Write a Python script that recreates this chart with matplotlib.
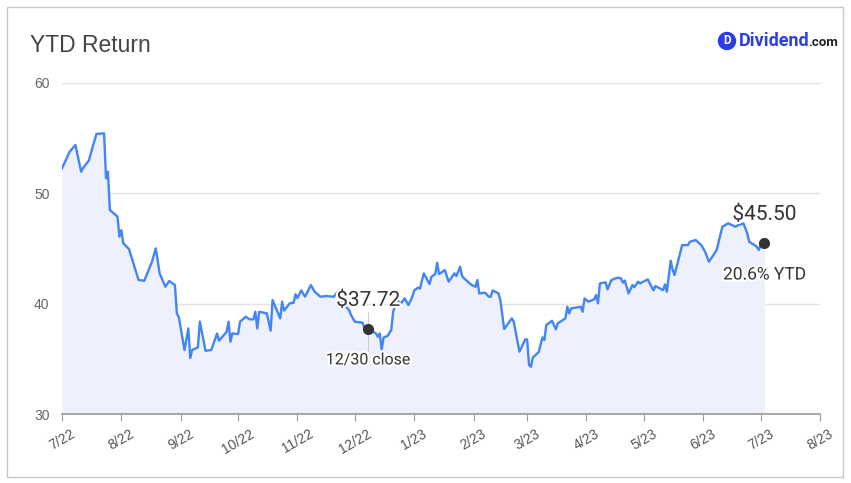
import matplotlib
matplotlib.use("Agg")
import matplotlib.pyplot as plt
import matplotlib.dates as mdates
import matplotlib.patheffects as pe
from matplotlib.patches import Rectangle, Circle
from matplotlib.transforms import IdentityTransform
import pandas as pd

plt.rcParams["font.family"] = ["Roboto", "DejaVu Sans"]
ARIAL = ["Liberation Sans", "DejaVu Sans"]

start = pd.Timestamp("2022-07-01")

# days after 7/1/22 and closing prices
day_offsets = [
    0, 4, 7, 10, 11, 14, 16, 18, 22, 23, 24, 25, 29, 30, 31, 32, 35, 40, 43, 47,
    49, 51, 54, 56, 59, 60, 61, 64, 66, 67, 68, 71, 72, 75, 78, 81, 82, 86, 87, 88,
    89, 92, 93, 96, 98, 100, 101, 102, 103, 107, 109, 110, 114, 115, 116, 119, 121, 122, 123, 125,
    127, 130, 132, 135, 138, 142, 144, 147, 150, 151, 153, 157, 158, 160, 164, 165, 166, 167, 168, 170,
    172, 173, 175, 177, 179, 181, 183, 184, 186, 187, 189, 192, 193, 195, 196, 197, 200, 202, 205, 206,
    208, 209, 210, 214, 216, 217, 218, 221, 223, 224, 225, 228, 229, 231, 235, 236, 239, 242, 243, 244,
    245, 246, 249, 251, 252, 253, 256, 258, 259, 263, 264, 265, 266, 271, 272, 273, 275, 278, 279, 280,
    281, 284, 285, 287, 290, 292, 293, 294, 296, 298, 299, 301, 302, 306, 309, 310, 314, 315, 316, 318,
    319, 320, 324, 327, 328, 331, 334, 336, 338, 342, 345, 348, 352, 353, 356, 358, 359, 363, 364, 365,
    367,
]
prices = [
    52.27, 53.77, 54.38, 51.96, 52.30, 52.96, 54.20, 55.38, 55.44, 51.36, 51.96, 48.49, 47.88, 46.07, 46.67, 45.47, 44.95, 42.14, 42.08, 43.80,
    45.01, 42.75, 41.53, 42.05, 41.69, 39.12, 38.80, 35.80, 37.76, 35.07, 35.80, 36.04, 38.37, 35.73, 35.80, 37.30, 36.64, 37.45, 38.37, 36.56,
    37.30, 37.25, 38.37, 38.82, 38.58, 38.58, 39.27, 37.76, 39.27, 39.12, 37.55, 40.33, 38.67, 40.18, 39.37, 40.03, 40.08, 40.85, 40.50, 41.20,
    40.63, 41.69, 41.08, 40.63, 40.69, 40.63, 41.08, 40.00, 39.42, 38.97, 38.37, 38.28, 37.80, 37.72, 37.30, 37.00, 37.30, 35.85, 36.94, 37.06,
    37.60, 39.27, 40.33, 40.00, 40.48, 39.87, 40.63, 41.20, 41.45, 41.36, 42.75, 41.78, 42.44, 42.68, 43.70, 42.68, 43.05, 41.99, 42.75, 42.50,
    43.35, 42.50, 42.30, 41.69, 41.53, 42.14, 40.93, 40.99, 40.63, 40.63, 41.20, 40.93, 40.33, 37.70, 38.67, 38.37, 35.65, 36.76, 36.76, 34.43,
    34.28, 35.13, 35.60, 36.94, 36.70, 38.06, 38.45, 37.67, 38.21, 38.67, 39.72, 39.12, 39.57, 39.72, 39.27, 40.48, 40.18, 40.39, 40.78, 40.03,
    41.84, 41.93, 41.30, 42.14, 42.35, 42.30, 41.90, 42.10, 40.93, 41.69, 41.50, 41.99, 41.84, 42.20, 41.20, 41.60, 41.23, 41.75, 41.08, 43.90,
    43.11, 42.60, 45.31, 45.31, 45.61, 45.77, 45.31, 44.70, 43.80, 44.86, 46.97, 47.28, 46.97, 47.10, 47.28, 46.37, 45.61, 45.16, 44.86, 45.31,
    45.50,
]

month_ticks = pd.date_range("2022-07-01", "2023-08-01", freq="MS")
y_ticks = [30, 40, 50, 60]

ref_day, ref_price = 160, 37.72
last_price = 45.50
ytd = 20.6

dates = [start + pd.Timedelta(days=d) for d in day_offsets]

fig = plt.figure(figsize=(8.51, 4.83), dpi=100)
fig.patches.append(Rectangle((7 / 851, 6 / 483), 836 / 851, 470 / 483,
                             transform=fig.transFigure, fill=False,
                             edgecolor="#c8c8c8", linewidth=1.0))

ax = fig.add_axes([62 / 851, 1 - 414 / 483, 758 / 851, 331 / 483])
ax.fill_between(dates, prices, 30, color="#eef0fc", linewidth=0)
ax.plot(dates, prices, color="#4285f4", linewidth=1.7, zorder=3)

ax.set_xlim(month_ticks[0], month_ticks[-1])
ax.set_ylim(30, 60)
ax.set_yticks(y_ticks)
ax.set_xticks(month_ticks)
ax.xaxis.set_major_formatter(plt.FuncFormatter(
    lambda v, p: f"{mdates.num2date(v).month}/{mdates.num2date(v):%y}"))
ax.grid(axis="y", color="#e2e2e2", linewidth=1)
ax.set_axisbelow(True)
for s in ["top", "right", "left"]:
    ax.spines[s].set_visible(False)
ax.spines["bottom"].set_color("#999999")
ax.spines["bottom"].set_linewidth(1.2)
ax.spines["bottom"].set_zorder(4)
ax.tick_params(axis="y", length=0, labelsize=10, labelcolor="#666666", pad=9)
ax.tick_params(axis="x", length=5, color="#999999", labelsize=10,
               labelcolor="#555555", pad=4)
for lab in ax.get_xticklabels() + ax.get_yticklabels():
    lab.set_family(ARIAL)
for lab in ax.get_xticklabels():
    lab.set_rotation(30)
    lab.set_ha("center")

halo = [pe.withStroke(linewidth=3, foreground="white")]

# 12/30 close marker
ref_date = start + pd.Timedelta(days=ref_day)
ax.vlines(ref_date, 35.7, 39.2, color="#cccccc", linewidth=0.8, zorder=2)
ax.plot([ref_date], [ref_price], "o", color="#333333", markersize=7, zorder=5)
ax.text(ref_date, 40.3, f"${ref_price:.2f}", ha="center", va="center",
        fontsize=15, color="#333333", path_effects=halo, zorder=6)
ax.text(ref_date, 34.9, "12/30 close", ha="center", va="center",
        fontsize=11.5, color="#333333", path_effects=halo, zorder=6)

# latest marker
ax.plot([dates[-1]], [last_price], "o", color="#333333", markersize=7, zorder=5)
ax.text(dates[-1], 48.1, f"${last_price:.2f}", ha="center", va="center",
        fontsize=15, color="#333333", path_effects=halo, zorder=6)
ax.text(dates[-1], 42.6, f"{ytd}% YTD", ha="center", va="center",
        fontsize=12.5, color="#333333", path_effects=halo, zorder=6)

fig.text(30 / 851, 1 - 45 / 483, "YTD Return", fontsize=16.5, color="#444444",
         ha="left", va="center", family=ARIAL)

# Dividend.com logo
fig.patches.append(Circle((727, 483 - 41), 8.5, transform=IdentityTransform(),
                          color="#2b3de6"))
fig.text(727.5 / 851, 1 - 41 / 483, "D", fontsize=8.5, fontweight="bold",
         color="white", ha="center", va="center", zorder=5)
fig.text(739 / 851, 1 - 41 / 483, "Dividend", fontsize=13, fontweight="bold",
         color="#2b3de6", ha="left", va="center")
fig.text(808 / 851, 1 - 42.5 / 483, ".com", fontsize=9.5, fontweight="bold",
         color="#222222", ha="left", va="center")

fig.savefig("out.png", dpi=100)
